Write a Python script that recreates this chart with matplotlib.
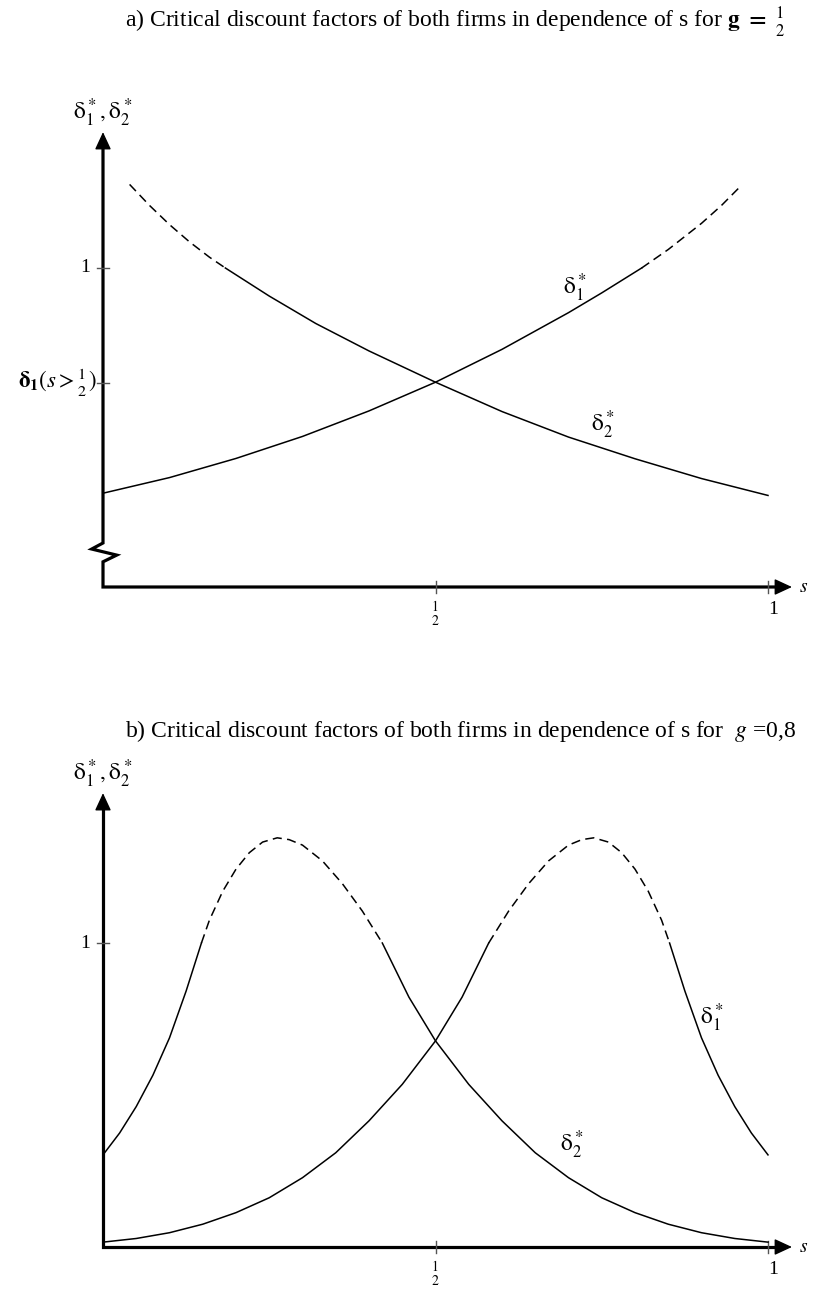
import numpy as np
import matplotlib
matplotlib.use("Agg")
import matplotlib.pyplot as plt

plt.rcParams['font.family'] = ['Liberation Serif', 'DejaVu Serif']
plt.rcParams['mathtext.fontset'] = 'stix'

# panel a) g = 1/2  (y in units where the x axis is 0 and the "1" tick is 1)
s_a1 = [0.0, 0.1, 0.2, 0.3, 0.4, 0.5, 0.6, 0.7, 0.75, 0.81, 0.85, 0.9, 0.93, 0.96]
d_a1 = [0.294, 0.343, 0.403, 0.472, 0.552, 0.642, 0.745, 0.860, 0.922, 1.0, 1.058, 1.140, 1.196, 1.259]
s_a2 = [0.04, 0.07, 0.10, 0.13, 0.16, 0.184, 0.25, 0.32, 0.40, 0.50, 0.60, 0.70, 0.80, 0.90, 1.0]
d_a2 = [1.262, 1.196, 1.136, 1.082, 1.034, 1.0, 0.912, 0.826, 0.740, 0.642, 0.550, 0.470, 0.402, 0.340, 0.287]

# panel b) g = 0,8
s_b1 = [0.0, 0.05, 0.1, 0.15, 0.2, 0.25, 0.3, 0.35, 0.4, 0.45, 0.5, 0.54, 0.58, 0.61, 0.64, 0.67,
        0.7, 0.72, 0.738, 0.76, 0.78, 0.8, 0.82, 0.84, 0.852, 0.875, 0.9, 0.925, 0.95, 0.975, 1.0]
d_b1 = [0.016, 0.028, 0.047, 0.075, 0.113, 0.162, 0.228, 0.310, 0.415, 0.535, 0.678, 0.822, 1.0, 1.105,
        1.195, 1.270, 1.322, 1.340, 1.346, 1.332, 1.297, 1.243, 1.170, 1.075, 1.0, 0.842, 0.688, 0.565,
        0.462, 0.375, 0.303]
s_b2 = [0.0, 0.025, 0.05, 0.075, 0.1, 0.125, 0.148, 0.16, 0.18, 0.2, 0.22, 0.24, 0.262, 0.28, 0.3,
        0.33, 0.36, 0.39, 0.42, 0.46, 0.5, 0.55, 0.6, 0.65, 0.7, 0.75, 0.8, 0.85, 0.9, 0.95, 1.0]
d_b2 = [0.303, 0.375, 0.462, 0.565, 0.688, 0.842, 1.0, 1.075, 1.170, 1.243, 1.297, 1.332, 1.346, 1.340,
        1.322, 1.270, 1.195, 1.105, 1.0, 0.822, 0.678, 0.535, 0.415, 0.310, 0.228, 0.162, 0.113, 0.075,
        0.047, 0.028, 0.016]

xtick_pos = [0.5, 1.0]
half = r'$\genfrac{}{}{0}{}{1}{2}$'
ytick_pos_a = [1.0, 0.64]
ytick_text_a = ['1', r'$\mathbf{\delta_1}(s > \genfrac{}{}{0}{}{1}{2})$']
ytick_pos_b = [1.0]
ytick_text_b = ['1']

title_a = r'a) Critical discount factors of both firms in dependence of s for $\mathbf{g}$ $\mathbf{=}$ $\genfrac{}{}{0}{}{1}{2}$'
title_b = r'b) Critical discount factors of both firms in dependence of s for  $g$ =0,8'
ylabel = r'$\mathrm{\delta}_1^*,\mathrm{\delta}_2^*$'
lab1 = r'$\mathrm{\delta}_1^*$'
lab2 = r'$\mathrm{\delta}_2^*$'

W, H = 813, 1290
fig = plt.figure(figsize=(W / 100, H / 100), dpi=100)


def make_axes(top_px, bot_px, axis_px, one_px):
    # axes spanning full width; s=0 at px 103, s=1 at px 768
    ax = fig.add_axes([0, 1 - bot_px / H, 1, (bot_px - top_px) / H])
    unit = axis_px - one_px
    ax.set_xlim(-103 / 665, (W - 103) / 665)
    ax.set_ylim((axis_px - bot_px) / unit, (axis_px - top_px) / unit)
    ax.axis('off')
    return ax


def curve(ax, s, d):
    s = np.asarray(s)
    d = np.asarray(d)
    ax.plot(s, np.ma.masked_where(d > 1, d), color='black', lw=1.1)
    ax.plot(s, np.ma.masked_where(d < 1, d), color='black', lw=1.1, dashes=(6, 3.5))


def arrow(ax, tip, base):
    ax.annotate('', xy=tip, xytext=base,
                arrowprops=dict(arrowstyle='-|>,head_length=0.54,head_width=0.25',
                                mutation_scale=20, color='black', lw=1,
                                shrinkA=0, shrinkB=0))


def frame(ax, ytop, xtip, yticks, ytexts, brk=None, vt=0.019):
    ys = [ytop - 0.03, 0]
    xs = [0, 0]
    if brk is not None:
        xs = [0] + [p[0] for p in brk] + [0]
        ys = [ytop - 0.03] + [p[1] for p in brk] + [0]
    ax.plot(xs + [xtip - 0.01], ys + [0], color='black', lw=2.3,
            solid_joinstyle='miter', solid_capstyle='butt')
    arrow(ax, (0, ytop), (0, ytop - 0.05))
    arrow(ax, (xtip, 0), (xtip - 0.03, 0))
    for v, t in zip(yticks, ytexts):
        ax.plot([-0.009, 0.009], [v, v], color='#555555', lw=1)
        long = len(t) > 2
        ax.annotate(t, (0, v), xytext=(-4.5 if long else -9, 0), textcoords='offset points',
                    ha='right', va='center', fontsize=16.5 if long else 14)
    for s in xtick_pos:
        ax.plot([s, s], [-vt, vt], color='#555555', lw=1)
    ax.annotate(half, (0.5, 0), xytext=(0, -9), textcoords='offset points',
                ha='center', va='top', fontsize=14)
    ax.annotate('1', (1.0, 0), xytext=(3.5, -16), textcoords='offset points',
                ha='center', va='center', fontsize=14)
    ax.annotate(r'$s$', (xtip, 0), xytext=(5, 0), textcoords='offset points',
                ha='left', va='center', fontsize=14)
    ax.annotate(ylabel, (0, ytop), xytext=(0, 14), textcoords='offset points',
                ha='center', va='center', fontsize=17)


# panel a
ax_a = make_axes(0, 645, 587, 268)
zig = [(0, 0.138), (-0.017, 0.119), (0.0206, 0.100), (0, 0.079)]
frame(ax_a, 1.426, 1.036, ytick_pos_a, ytick_text_a, brk=zig)
curve(ax_a, s_a1, d_a1)
curve(ax_a, s_a2, d_a2)
ax_a.text(0.71, 0.937, lab1, fontsize=17, ha='center', va='center')
ax_a.text(0.752, 0.508, lab2, fontsize=17, ha='center', va='center')

# panel b
ax_b = make_axes(645, 1290, 1247, 943)
frame(ax_b, 1.493, 1.036, ytick_pos_b, ytick_text_b, vt=0.02)
curve(ax_b, s_b1, d_b1)
curve(ax_b, s_b2, d_b2)
ax_b.text(0.916, 0.753, lab1, fontsize=17, ha='center', va='center')
ax_b.text(0.705, 0.336, lab2, fontsize=17, ha='center', va='center')

fig.text(125 / W, 1 - 22 / H, title_a, ha='left', va='center', fontsize=17)
fig.text(125 / W, 1 - 731 / H, title_b, ha='left', va='center', fontsize=17)

fig.savefig('out.png', dpi=100)
